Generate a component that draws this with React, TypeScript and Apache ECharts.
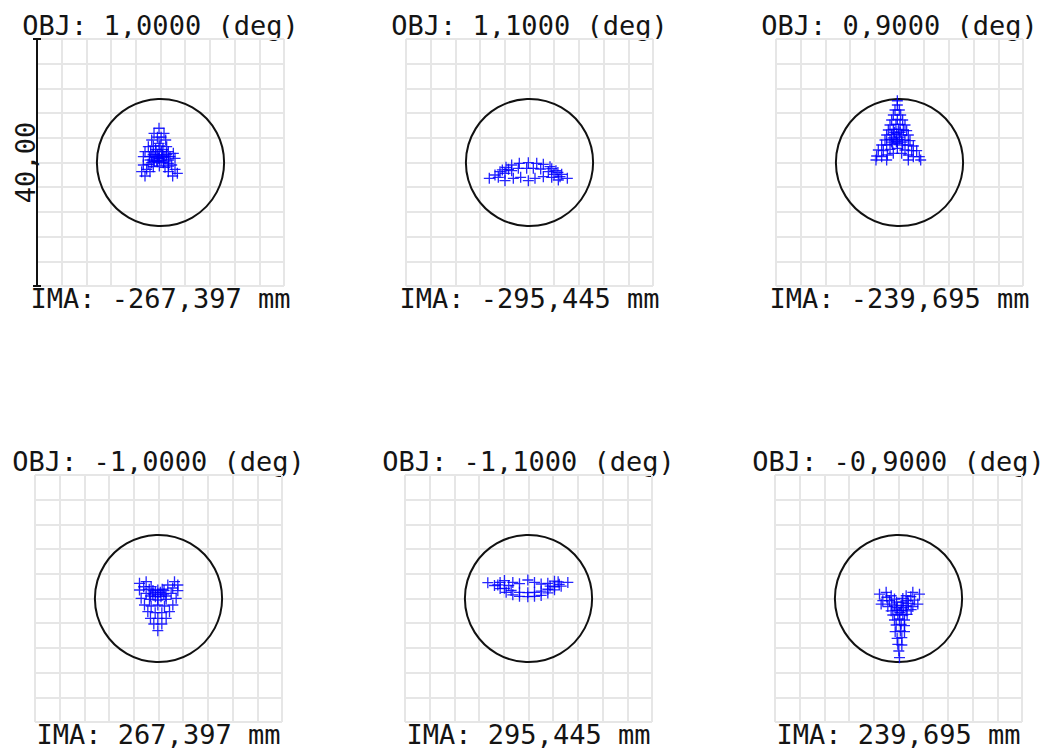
import React, { useEffect, useRef } from "react";
import * as echarts from "echarts";

// ---- Data (units: µm in the image plane, relative to chief ray) ----
const objLabels = ["OBJ: 1,0000 (deg)", "OBJ: 1,1000 (deg)", "OBJ: 0,9000 (deg)", "OBJ: -1,0000 (deg)", "OBJ: -1,1000 (deg)", "OBJ: -0,9000 (deg)"];
const imaLabels = ["IMA: -267,397 mm", "IMA: -295,445 mm", "IMA: -239,695 mm", "IMA: 267,397 mm", "IMA: 295,445 mm", "IMA: 239,695 mm"];
const scaleLabel = "40,00";
const axisMin = -20;
const axisMax = 20;
const axisStep = 4;
const airyRadius = [10.3, 10.3, 10.3, 10.3, 10.3, 10.3];

const spot1 = [
  [-0.24, 5.55], [-1.05, 4.72], [0.57, 4.72], [-0.5, 4.1], [0.1, 4.1], [-1.43, 3.64], [0.84, 3.64], [-0.24, 3.1],
  [-1.97, 2.56], [-1.16, 2.67], [-0.08, 2.67], [1.0, 2.56],
  [-2.51, 1.75], [-1.59, 1.75], [-0.73, 1.75], [0.19, 1.75], [1.27, 1.75], [2.08, 1.48],
  [-2.78, 0.94], [-1.81, 0.94], [-0.89, 0.84], [-0.19, 0.67], [0.57, 0.84], [1.54, 0.94], [2.35, 0.67],
  [-1.2, 1.3], [-0.45, 1.25], [0.3, 1.2], [1.0, 1.3], [-0.6, 0.3], [0.1, 0.35],
  [-1.0, 0.2], [-0.2, 1.0], [0.5, 0.1], [-1.4, 1.0], [0.9, 1.0], [-0.8, 2.1], [0.4, 2.1], [-0.35, 0.7], [-1.7, 0.4], [1.3, 0.4],
  [-1.43, -0.03], [-0.51, 0.13], [0.46, -0.03], [1.27, -0.13],
  [-2.78, -0.4], [-2.24, -1.11], [-3.05, -1.48], [-1.7, -1.48], [-2.51, -2.19], [-1.16, -0.67], [-2.0, -0.3],
  [1.81, -0.4], [2.35, -1.11], [1.27, -1.48], [2.73, -1.75], [1.97, -2.19], [0.73, -0.78], [-0.19, -0.57], [1.3, -0.6]
];
const spot2 = [
  [-6.51, -2.56], [-5.59, -2.02], [-4.78, -1.49], [-3.81, -0.78], [-2.89, -0.4], [-1.65, -0.13], [-0.19, -0.03],
  [1.17, -0.13], [2.24, -0.3], [3.32, -0.68], [4.29, -1.33], [5.21, -1.91], [6.13, -2.56],
  [-5.05, -2.4], [-3.97, -1.75], [-2.89, -1.33], [-1.81, -0.94], [-0.46, -0.94], [0.62, -0.94], [1.81, -1.05],
  [3.05, -1.49], [3.97, -1.91], [4.94, -2.3],
  [-3.97, -2.94], [-2.62, -2.56], [-1.43, -2.4], [-0.19, -2.94], [0.89, -2.56], [2.24, -2.3], [3.59, -2.4], [4.67, -2.83],
  [-4.4, -1.2], [-3.4, -1.1], [3.6, -1.0], [4.6, -1.6]
];
const spot3 = [
  [-0.35, 10.0], [-0.35, 9.31], [-0.73, 8.5], [-0.03, 8.5], [-1.0, 7.69], [0.19, 7.69], [-1.27, 6.88], [-0.35, 6.99],
  [0.51, 6.88], [-1.54, 6.07], [-0.57, 6.18], [0.08, 6.18], [0.89, 6.07], [-1.81, 5.26], [-1.0, 5.37], [-0.19, 5.37],
  [0.62, 5.26], [1.16, 5.15], [-2.08, 4.45], [-1.27, 4.56], [-0.46, 4.62], [0.35, 4.45], [1.43, 4.45],
  [-0.8, 4.9], [0.1, 4.9], [-1.0, 4.0], [0.0, 4.1], [-0.5, 3.4], [0.4, 3.3], [-1.3, 3.3],
  [-2.35, 3.64], [-1.54, 3.75], [-0.73, 3.64], [-0.03, 3.75], [0.89, 3.64], [1.7, 3.54],
  [-2.89, 2.83], [-2.08, 2.83], [-1.11, 2.94], [-0.35, 3.1], [0.51, 2.83], [1.43, 2.83], [2.24, 2.67],
  [-3.43, 2.02], [-2.62, 1.92], [-1.54, 2.13], [-0.35, 2.29], [0.89, 2.02], [1.97, 1.92], [2.78, 1.92],
  [-3.7, 1.05], [-2.89, 0.94], [-1.97, 1.21], [-1.0, 1.48], [0.35, 1.48], [1.43, 1.21], [2.24, 0.94], [3.21, 0.94],
  [-3.81, 0.4], [-2.08, 0.4], [1.43, 0.4], [3.43, 0.4]
];
const spot4 = [
  [-3.08, 2.46], [-2.0, 2.73], [2.59, 2.73], [3.13, 2.19], [1.51, 2.19], [-1.19, 1.92],
  [-3.08, 1.38], [3.13, 1.27], [-0.11, 1.38], [-2.0, 0.84], [-0.92, 0.73], [0.86, 0.73], [2.05, 0.84],
  [-1.5, 1.5], [0.6, 1.5], [-0.5, 0.3], [0.4, 0.3], [-0.5, 1.0], [0.3, 1.0], [-1.3, 0.4], [1.2, 0.4],
  [-0.9, 1.3], [0.9, 1.3], [-0.1, 0.6], [-2.4, 1.9], [2.3, 1.7],
  [-2.81, 0.03], [-1.46, -0.13], [-0.11, -0.24], [1.24, -0.13], [2.86, 0.03],
  [-2.27, -1.05], [-1.19, -1.21], [-0.11, -1.05], [0.97, -1.21], [2.32, -1.05],
  [-1.73, -2.13], [-0.54, -2.29], [0.54, -2.29], [1.78, -2.13],
  [-1.3, -3.21], [-0.11, -3.21], [1.24, -3.21], [-0.76, -4.13], [0.54, -4.13], [-0.11, -5.21]
];
const spot5 = [
  [-6.59, 2.56], [-5.51, 2.1], [-4.59, 1.6], [-3.62, 1.0], [-2.54, 0.6], [-1.46, 0.35], [-0.11, 0.3],
  [0.97, 0.35], [2.05, 0.5], [3.13, 0.9], [4.21, 1.4], [5.29, 2.0], [6.37, 2.6],
  [-4.97, 2.2], [-3.89, 1.65], [-2.81, 1.3], [-1.46, 1.0], [-0.11, 0.95], [0.97, 1.0], [2.05, 1.2],
  [3.13, 1.5], [4.21, 1.9], [4.97, 2.3],
  [-3.89, 2.9], [-2.54, 2.6], [-1.46, 2.4], [-0.11, 3.0], [0.97, 2.6], [2.05, 2.35], [3.13, 2.45], [4.21, 2.8],
  [-4.6, 2.6], [4.8, 2.7], [-3.2, 2.1], [3.5, 2.0]
];
const spot6 = [
  [-3.08, 0.7], [-2.0, 1.0], [-1.19, 0.45], [-2.54, -0.35], [-1.46, -0.35], [-0.65, -0.1], [-2.81, -0.9],
  [1.24, 0.45], [2.32, 1.0], [3.4, 0.7], [1.51, -0.35], [2.59, -0.25], [3.13, -0.9], [0.7, 0.0],
  [-1.9, 0.2], [2.0, 0.3], [-0.3, -0.6], [0.6, -0.6], [-1.1, -0.9], [1.6, -0.8],
  [-1.73, -1.3], [-0.65, -1.2], [0.43, -1.1], [1.24, -1.2], [2.32, -1.3],
  [-1.19, -2.0], [-0.38, -1.9], [0.43, -1.9], [1.24, -2.0], [2.05, -1.8],
  [-0.2, -1.5], [0.8, -1.5], [0.2, -2.3],
  [-0.92, -2.67], [-0.11, -2.56], [0.7, -2.67], [1.4, -2.56],
  [-0.65, -3.48], [0.16, -3.32], [0.97, -3.48], [-0.38, -4.29], [0.43, -4.18], [0.97, -4.4],
  [-0.54, -5.37], [0.32, -5.26], [0.97, -5.37], [-0.22, -6.45], [0.54, -6.34],
  [-0.11, -7.42], [0.54, -7.53], [0.05, -8.5], [0.16, -9.58]
];
const spots = [spot1, spot2, spot3, spot4, spot5, spot6];

// ---- Layout ----
const BOX = 247;
const boxLeft = [37, 406, 776, 35, 405, 775];
const boxTop = [39, 39, 39, 475, 475, 475];

const FONT = "'DejaVu Sans Mono', 'Liberation Mono', monospace";
const TEXT_COLOR = "#141414";
const PLUS = "path://M0,4.4h10v1.2h-10z M4.4,0h1.2v10h-1.2z";

export default function App() {
  const ref = useRef<HTMLDivElement>(null);
  useEffect(() => {
    if (!ref.current) return;
    const chart = echarts.init(ref.current, null, { renderer: "svg" });
    const grids: any[] = [];
    const xAxes: any[] = [];
    const yAxes: any[] = [];
    const series: any[] = [];
    const graphics: any[] = [];
    for (let i = 0; i < 6; i++) {
      grids.push({ left: boxLeft[i], top: boxTop[i], width: BOX, height: BOX, containLabel: false });
      const ax = {
        gridIndex: i, type: "value", min: axisMin, max: axisMax, interval: axisStep,
        axisLine: { show: false }, axisTick: { show: false }, axisLabel: { show: false },
        splitLine: { show: true, showMinLine: true, showMaxLine: true, lineStyle: { color: "#e6e6e6", width: 2 } },
      };
      xAxes.push({ ...ax });
      yAxes.push({ ...ax });
      series.push({
        type: "custom", xAxisIndex: i, yAxisIndex: i, silent: true, z: 2,
        data: [[0, 0, airyRadius[i]]],
        renderItem: (params: any, api: any) => {
          const c = api.coord([api.value(0), api.value(1)]);
          const r = api.size([api.value(2), 0])[0];
          return { type: "circle", shape: { cx: c[0], cy: c[1], r }, style: { fill: "none", stroke: "#111", lineWidth: 2 } };
        },
      });
      series.push({
        type: "scatter", xAxisIndex: i, yAxisIndex: i, silent: true, z: 3,
        data: spots[i], symbol: PLUS, symbolSize: 11,
        itemStyle: { color: "rgba(0,0,255,0.85)", opacity: 1 },
      });
      const cx = boxLeft[i] + BOX / 2;
      graphics.push({
        type: "text", x: cx, y: boxTop[i] - 14,
        style: { text: objLabels[i], font: `27px ${FONT}`, fill: TEXT_COLOR, textAlign: "center", textVerticalAlign: "middle" },
      });
      graphics.push({
        type: "text", x: cx, y: boxTop[i] + BOX + 12,
        style: { text: imaLabels[i], font: `27px ${FONT}`, fill: TEXT_COLOR, textAlign: "center", textVerticalAlign: "middle" },
      });
    }
    // scale bar on first panel
    const sx = boxLeft[0];
    graphics.push({ type: "line", shape: { x1: sx, y1: boxTop[0], x2: sx, y2: boxTop[0] + BOX }, style: { stroke: "#111", lineWidth: 2 }, z: 10 });
    graphics.push({ type: "line", shape: { x1: sx - 4, y1: boxTop[0], x2: sx + 4, y2: boxTop[0] }, style: { stroke: "#111", lineWidth: 2 }, z: 10 });
    graphics.push({ type: "line", shape: { x1: sx - 4, y1: boxTop[0] + BOX, x2: sx + 4, y2: boxTop[0] + BOX }, style: { stroke: "#111", lineWidth: 2 }, z: 10 });
    graphics.push({
      type: "text", x: sx - 12, y: boxTop[0] + BOX / 2, rotation: Math.PI / 2, z: 10,
      style: { text: scaleLabel, font: `27px ${FONT}`, fill: TEXT_COLOR, textAlign: "center", textVerticalAlign: "middle" },
    });

    chart.setOption({
      animation: false,
      backgroundColor: "#ffffff",
      grid: grids,
      xAxis: xAxes,
      yAxis: yAxes,
      series,
      graphic: graphics,
    });
    return () => chart.dispose();
  }, []);
  return <div ref={ref} style={{ position: "absolute", left: 0, top: 0, width: 1052, height: 749 }} />;
}
